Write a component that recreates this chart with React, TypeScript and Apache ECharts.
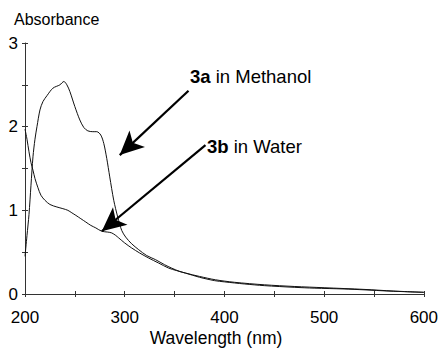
import React, { useEffect, useRef } from "react";
import * as echarts from "echarts";

const methanolWl = [200, 202, 204, 206, 208, 210, 212, 215, 218, 222, 228, 235, 239, 242, 245, 250, 255, 259, 263, 268, 272, 276, 279, 282, 285, 289, 293, 297, 301, 307, 314, 322, 331, 340, 347, 355, 361, 375, 391, 410, 440, 470, 500, 540, 570, 600];
const methanolAbs = [0.45, 0.7, 0.95, 1.3, 1.64, 1.85, 2.0, 2.2, 2.3, 2.37, 2.46, 2.5, 2.54, 2.5, 2.42, 2.24, 2.08, 1.99, 1.95, 1.94, 1.94, 1.9, 1.8, 1.62, 1.4, 1.12, 0.92, 0.76, 0.68, 0.6, 0.53, 0.46, 0.41, 0.35, 0.31, 0.27, 0.25, 0.21, 0.17, 0.14, 0.11, 0.09, 0.075, 0.055, 0.035, 0.02];

const waterWl = [200, 202, 204, 206, 208, 210, 213, 216, 220, 225, 232, 238, 243, 247, 251, 256, 261, 266, 271, 277, 283, 287, 291, 294, 300, 307, 315, 324, 334, 344, 352, 361, 375, 390, 400, 420, 440, 470, 490, 520, 540, 565, 600];
const waterAbs = [1.97, 1.85, 1.7, 1.57, 1.48, 1.38, 1.27, 1.18, 1.12, 1.07, 1.04, 1.02, 1.0, 0.97, 0.94, 0.9, 0.86, 0.82, 0.79, 0.75, 0.74, 0.73, 0.7, 0.67, 0.61, 0.55, 0.49, 0.43, 0.37, 0.31, 0.28, 0.25, 0.2, 0.16, 0.145, 0.12, 0.1, 0.08, 0.07, 0.06, 0.05, 0.035, 0.02];

// Arrow annotations in data coordinates: [startWl, startAbs, tipWl, tipAbs]
const arrowMethanol = [364, 2.43, 295, 1.66];
const arrowWater = [381, 1.78, 277, 0.75];

const FONT = "'Liberation Sans', Arial, Helvetica, sans-serif";
const AXIS_COLOR = "#333";

export default function App() {
  const ref = useRef<HTMLDivElement>(null);
  useEffect(() => {
    if (!ref.current) return;
    const chart = echarts.init(ref.current, undefined, { renderer: "svg" });
    const arrowLine = (a: number[]) => ({
      silent: true,
      symbol: ["none", "arrow"],
      symbolSize: [17, 24],
      label: { show: false },
      lineStyle: { color: "#000", width: 2.2, type: "solid" },
      data: [[{ coord: [a[0], a[1]] }, { coord: [a[2], a[3]] }]],
    });
    const baseX = {
      type: "value",
      min: 200,
      max: 600,
      interval: 100,
      position: "bottom",
      splitLine: { show: false },
    };
    const baseY = {
      type: "value",
      min: 0,
      max: 3,
      interval: 1,
      position: "left",
      splitLine: { show: false },
    };
    chart.setOption({
      animation: false,
      backgroundColor: "#fff",
      textStyle: { fontFamily: FONT },
      grid: { left: 25, right: 13, top: 43, bottom: 58 },
      xAxis: [
        {
          ...baseX,
          axisLine: { lineStyle: { color: AXIS_COLOR, width: 1 } },
          axisTick: { show: true, length: 3, lineStyle: { color: AXIS_COLOR } },
          minorTick: { show: true, splitNumber: 2, length: 3, lineStyle: { color: AXIS_COLOR } },
          axisLabel: { fontSize: 17, color: "#000", margin: 15, fontFamily: FONT },
        },
        {
          ...baseX,
          axisLine: { show: false },
          axisTick: { show: true, inside: true, length: 3, lineStyle: { color: AXIS_COLOR } },
          minorTick: { show: true, splitNumber: 2, length: 3, lineStyle: { color: AXIS_COLOR } },
          axisLabel: { show: false },
        },
      ],
      yAxis: [
        {
          ...baseY,
          axisLine: { show: true, lineStyle: { color: AXIS_COLOR, width: 1 } },
          axisTick: { show: true, length: 3, lineStyle: { color: AXIS_COLOR } },
          minorTick: { show: true, splitNumber: 2, length: 3, lineStyle: { color: AXIS_COLOR } },
          axisLabel: { fontSize: 17, color: "#000", margin: 7, fontFamily: FONT },
        },
        {
          ...baseY,
          axisLine: { show: false },
          axisTick: { show: true, inside: true, length: 3, lineStyle: { color: AXIS_COLOR } },
          minorTick: { show: true, splitNumber: 2, length: 3, lineStyle: { color: AXIS_COLOR } },
          axisLabel: { show: false },
        },
      ],
      graphic: [
        {
          type: "text",
          x: 14,
          y: 11,
          style: { text: "Absorbance", font: `16px ${FONT}`, fill: "#000", verticalAlign: "top" },
        },
        {
          type: "text",
          x: 216,
          y: 329,
          style: {
            text: "Wavelength (nm)",
            font: `17.5px ${FONT}`,
            fill: "#000",
            align: "center",
            verticalAlign: "top",
          },
        },
        {
          type: "text",
          x: 190,
          y: 67,
          style: {
            text: "{b|3a} in Methanol",
            font: `18.5px ${FONT}`,
            fill: "#000",
            verticalAlign: "top",
            rich: { b: { fontWeight: "bold", fontSize: 18.5, fontFamily: FONT } },
          },
        },
        {
          type: "text",
          x: 207,
          y: 137,
          style: {
            text: "{b|3b} in Water",
            font: `18.5px ${FONT}`,
            fill: "#000",
            verticalAlign: "top",
            rich: { b: { fontWeight: "bold", fontSize: 18.5, fontFamily: FONT } },
          },
        },
      ],
      series: [
        {
          name: "3a in Methanol",
          type: "line",
          data: methanolWl.map((w, i) => [w, methanolAbs[i]]),
          showSymbol: false,
          smooth: 0.3,
          lineStyle: { color: "#111", width: 1 },
          markLine: arrowLine(arrowMethanol),
        },
        {
          name: "3b in Water",
          type: "line",
          data: waterWl.map((w, i) => [w, waterAbs[i]]),
          showSymbol: false,
          smooth: 0.3,
          lineStyle: { color: "#111", width: 1 },
          markLine: arrowLine(arrowWater),
        },
      ],
    });
    return () => chart.dispose();
  }, []);
  return (
    <div
      ref={ref}
      style={{ position: "fixed", left: 0, top: 0, width: 441, height: 352 }}
    />
  );
}
